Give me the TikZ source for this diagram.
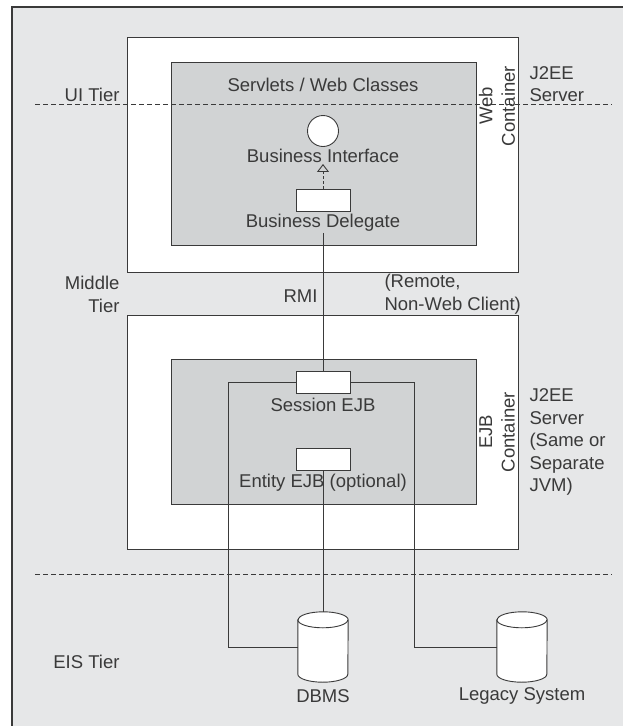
\documentclass[tikz,border=0pt]{standalone}
\usepackage{fontspec}
\setmainfont{Liberation Sans}
\usetikzlibrary{arrows.meta}
\definecolor{bgray}{HTML}{E6E7E8}
\definecolor{cgray}{HTML}{D1D3D4}
\definecolor{ink}{HTML}{3A3A3A}

\begin{document}
\begin{tikzpicture}[x=1pt,y=-1pt,
    every node/.style={font=\fontsize{18.5}{22.5}\selectfont,text=ink},
    ln/.style={draw=ink,line width=.9pt},
    comp/.style={ln,fill=white,minimum width=54pt,minimum height=22pt,inner sep=0pt},
    db/.style={minimum width=50pt,minimum height=70pt,inner sep=0pt},
    tier/.style={draw=ink,line width=.8pt,dash pattern=on 5pt off 3pt}]
    \useasboundingbox (0,0) rectangle (623,726);
    \fill [bgray] (12,7) rectangle (623,726);
    \draw [ink,line width=1.6pt] (12,726) -- (12,7) -- (623,7);
    \foreach \t/\b in {37/272,315/549}
        {\filldraw [ln,fill=white] (127,\t) rectangle (518,\b);}
    \foreach \t/\b in {62/245,359/504}
        {\filldraw [ln,fill=cgray] (171,\t) rectangle (476,\b);}

    \node (servlets) at (323,85) {Servlets / Web Classes};
    \node [circle,ln,fill=white,minimum size=31pt,inner sep=0pt] (bi) at (323,131) {};
    \node [inner sep=1pt] (bilabel) at (323,156) {Business Interface};
    \node [comp] (bd) at (323,200.5) {};
    \node [inner sep=1pt] (bdlabel) at (323,223) {Business Delegate};
    \node [comp] (sejb) at (323,382.5) {};
    \node (sejblabel) at (323,405) {Session EJB};
    \node [comp] (eejb) at (323,459) {};
    \node (eejblabel) at (323,483) {Entity EJB (optional)};
    \node [db] (dbms) at (323,647) {};
    \node [db] (legacy) at (522,647) {};
    \node (dbmslabel) at (323,696) {DBMS};
    \node (legacylabel) at (522,696) {Legacy System};
    \coordinate (sl) at (228.5,382.5);
    \coordinate (sr) at (414,382.5);

    \foreach \c in {dbms,legacy}
        {\filldraw [ln,fill=white] ([yshift=-8pt]\c.north west) -- ([yshift=8pt]\c.south west)
            arc [start angle=180,end angle=0,x radius=25,y radius=8] -- ([yshift=-8pt]\c.north east)
            arc [start angle=0,end angle=-180,x radius=25,y radius=8] -- cycle;
        \draw [ln] ([yshift=-8pt]\c.north west) arc [start angle=180,end angle=0,x radius=25,y radius=8];}

    \draw [ln,dash pattern=on 3pt off 2pt,-{Triangle[open,width=12pt,length=8pt]}] (bd) -- (bilabel);
    \draw [ln] (bdlabel) -- (sejb);
    \draw [ln] (eejb) -- (dbms);
    \draw [ln] (sejb.west) -- (sl) |- (dbms.west);
    \draw [ln] (sejb.east) -- (sr) |- (legacy.west);
    \node [anchor=east] (rmi) at (321,296) {RMI};

    \draw [tier] (35,104) -- (612,104);
    \draw [tier] (35,574) -- (612,574);

    \node [anchor=east] (ui) at (123,95) {UI Tier};
    \node [anchor=east,align=right] (middle) at (123,294.5) {Middle\\Tier};
    \node [anchor=east] (eis) at (123,662) {EIS Tier};
    \node [anchor=west,align=left] (remote) at (381,294) {(Remote,\\Non-Web Client)};
    \node [anchor=west,align=left] (server1) at (526,84) {J2EE\\Server};
    \node [anchor=west,align=left] (server2) at (526,442) {J2EE\\Server\\(Same or\\Separate\\JVM)};
    \node [rotate=90,align=center] (web) at (497,106) {Web\\Container};
    \node [rotate=90,align=center] (ejbc) at (497,432) {EJB\\Container};
\end{tikzpicture}
\end{document}
